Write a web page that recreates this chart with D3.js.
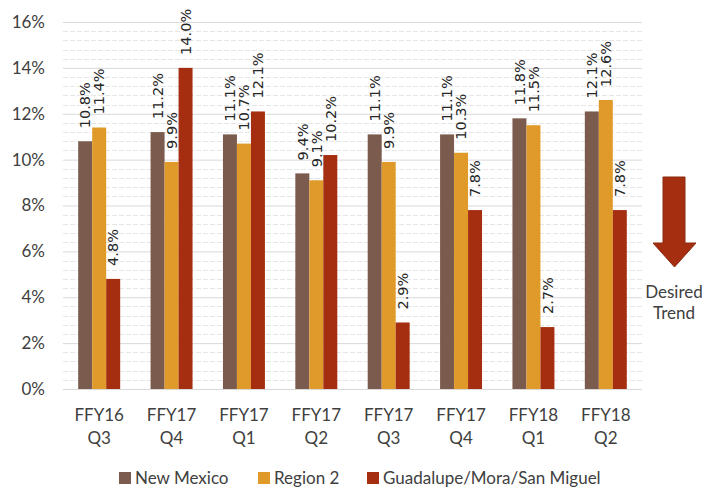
<!DOCTYPE html>
<html>
<head>
<meta charset="utf-8">
<script src="https://cdn.jsdelivr.net/npm/d3@7"></script>
<style>
  body { margin: 0; background: #fff; }
  svg { display: block; }
  .tick text { font-family: Lato, "Open Sans", sans-serif; fill: #404040; }
  .lbl { font-family: "DejaVu Sans", sans-serif; font-size: 14.5px; fill: #262626; }
  .leg { font-family: Lato, sans-serif; font-size: 17px; fill: #404040; }
</style>
</head>
<body>
<div id="chart"></div>
<script>
// quarterly rates, three geographies, with a "desired trend" arrow at the right

const quarters = [['FFY16', 'Q3'], ['FFY17', 'Q4'], ['FFY17', 'Q1'], ['FFY17', 'Q2'],
                  ['FFY17', 'Q3'], ['FFY17', 'Q4'], ['FFY18', 'Q1'], ['FFY18', 'Q2']];
const newMexico = [10.8, 11.2, 11.1, 9.4, 11.1, 11.1, 11.8, 12.1];
const region2   = [11.4, 9.9, 10.7, 9.1, 9.9, 10.3, 11.5, 12.6];
const guadalupe = [4.8, 14.0, 12.1, 10.2, 2.9, 7.8, 2.7, 7.8];
const seriesNames = ['New Mexico', 'Region 2', 'Guadalupe/Mora/San Miguel'];
const yTicks = [0, 2, 4, 6, 8, 10, 12, 14, 16];

const colors = ['#7b5b4e', '#e09a2a', '#a52e10'];
const W = 719, H = 488;
const m = { left: 63, right: 77, top: 22, bottom: 99 };

const svg = d3.select('#chart').append('svg').attr('width', W).attr('height', H);

const x = d3.scaleBand().domain(d3.range(quarters.length))
  .range([m.left, W - m.right]).paddingInner(0.42).paddingOuter(0.21);
const xs = d3.scaleBand().domain(d3.range(3)).range([0, x.bandwidth()]);
const y = d3.scaleLinear().domain([0, 16]).range([H - m.bottom, m.top]);

// minor grid
svg.append('g').selectAll('line')
  .data(d3.range(0, 16.01, 0.4).filter((v) => Math.abs(v / 2 - Math.round(v / 2)) > 0.01))
  .join('line')
  .attr('x1', m.left).attr('x2', W - m.right)
  .attr('y1', (d) => Math.round(y(d)) + 0.5).attr('y2', (d) => Math.round(y(d)) + 0.5)
  .attr('stroke', '#e6e6e6').attr('stroke-dasharray', '5,2');

// major grid + y labels
const yAxis = svg.append('g').attr('transform', `translate(${m.left},0)`)
  .call(d3.axisLeft(y).tickValues(yTicks).tickSize(-(W - m.left - m.right))
    .tickPadding(18).tickFormat((d) => d + '%'));
yAxis.select('.domain').remove();
yAxis.selectAll('.tick line').attr('stroke', '#d9d9d9');
yAxis.selectAll('.tick text').attr('font-size', 17);

const series = [newMexico, region2, guadalupe];
series.forEach((vals, si) => {
  const g = svg.append('g');
  g.selectAll('rect').data(vals).join('rect')
    .attr('x', (d, i) => x(i) + xs(si))
    .attr('width', xs.bandwidth())
    .attr('y', (d) => y(d))
    .attr('height', (d) => y(0) - y(d))
    .attr('fill', colors[si]);
  g.selectAll('text').data(vals).join('text')
    .attr('class', 'lbl')
    .attr('transform', (d, i) => `translate(${x(i) + xs(si) + xs.bandwidth() / 2},${y(d) - 13}) rotate(-90)`)
    .attr('dy', '0.36em')
    .text((d) => d.toFixed(1) + '%');
});

// baseline
svg.append('line')
  .attr('x1', m.left).attr('x2', W - m.right)
  .attr('y1', y(0) + 0.5).attr('y2', y(0) + 0.5)
  .attr('stroke', '#d9d9d9');

// x labels
const xl = svg.append('g').selectAll('text').data(quarters).join('text')
  .attr('class', 'tick')
  .attr('x', (d, i) => x(i) + x.bandwidth() / 2)
  .attr('text-anchor', 'middle')
  .style('font-family', 'Lato, sans-serif').style('font-size', '17px').style('fill', '#404040');
xl.append('tspan').attr('x', (d, i) => x(i) + x.bandwidth() / 2).attr('y', 421).text((d) => d[0]);
xl.append('tspan').attr('x', (d, i) => x(i) + x.bandwidth() / 2).attr('y', 444).text((d) => d[1]);

// legend
const legX = [119, 258, 367];
const leg = svg.append('g').selectAll('g').data(seriesNames).join('g')
  .attr('transform', (d, i) => `translate(${legX[i]},472)`);
leg.append('rect').attr('width', 12).attr('height', 12).attr('fill', (d, i) => colors[i]);
leg.append('text').attr('class', 'leg').attr('x', 16).attr('y', 12).text((d) => d);

// desired trend arrow
svg.append('path')
  .attr('d', 'M663,177 H685 V243 H696 L674.5,267 L653,243 H663 Z')
  .attr('fill', '#a52e10').attr('stroke', '#8a2a10').attr('stroke-width', 1);
svg.append('text').attr('class', 'leg').attr('text-anchor', 'middle')
  .attr('x', 674).attr('y', 298).text('Desired');
svg.append('text').attr('class', 'leg').attr('text-anchor', 'middle')
  .attr('x', 674).attr('y', 319).text('Trend');
</script>
</body>
</html>
